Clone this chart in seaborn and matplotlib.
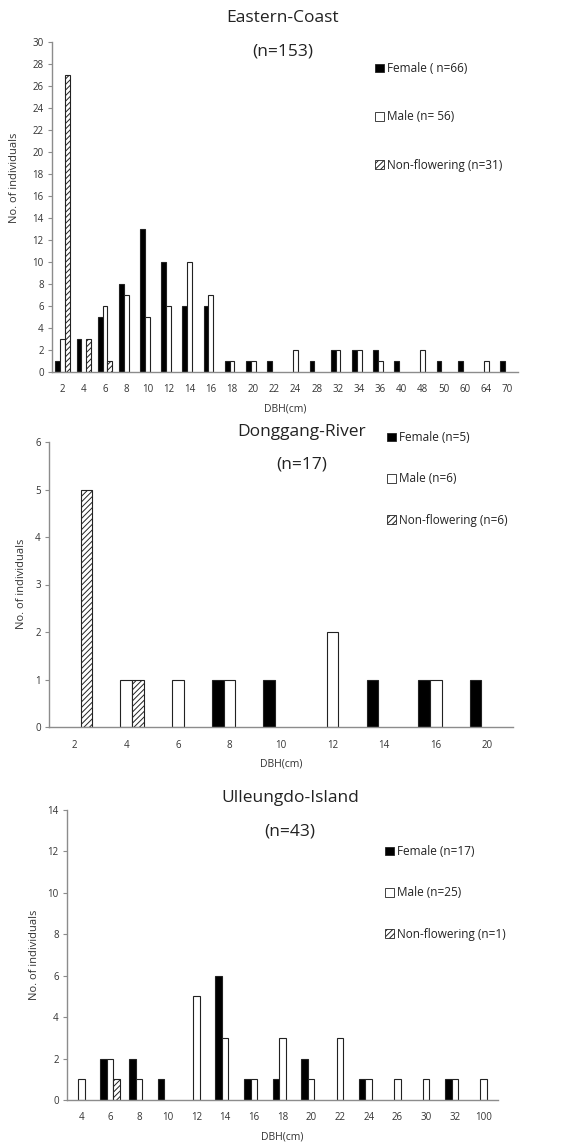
import pandas as pd
import matplotlib.pyplot as plt
import seaborn as sns
from matplotlib.patches import Patch
from matplotlib.ticker import FixedLocator

# Eastern-Coast
east_dbh = ['2', '4', '6', '8', '10', '12', '14', '16', '18', '20', '22',
            '24', '28', '32', '34', '36', '40', '48', '50', '60', '64', '70']
east_female = [1, 3, 5, 8, 13, 10, 6, 6, 1, 1, 1, 0, 1, 2, 2, 2, 1, 0, 1, 1, 0, 1]
east_male = [3, 0, 6, 7, 5, 6, 10, 7, 1, 1, 0, 2, 0, 2, 2, 1, 0, 2, 0, 0, 1, 0]
east_nonfl = [27, 3, 1, 0, 0, 0, 0, 0, 0, 0, 0, 0, 0, 0, 0, 0, 0, 0, 0, 0, 0, 0]

# Donggang-River
dong_dbh = ['2', '4', '6', '8', '10', '12', '14', '16', '20']
dong_female = [0, 0, 0, 1, 1, 0, 1, 1, 1]
dong_male = [0, 1, 1, 1, 0, 2, 0, 1, 0]
dong_nonfl = [5, 1, 0, 0, 0, 0, 0, 0, 0]

# Ulleungdo-Island
ull_dbh = ['4', '6', '8', '10', '12', '14', '16', '18', '20', '22', '24',
           '26', '30', '32', '100']
ull_female = [0, 2, 2, 1, 0, 6, 1, 1, 2, 0, 1, 0, 0, 1, 0]
ull_male = [1, 2, 1, 0, 5, 3, 1, 3, 1, 3, 1, 1, 1, 1, 1]
ull_nonfl = [0, 1, 0, 0, 0, 0, 0, 0, 0, 0, 0, 0, 0, 0, 0]

groups = ['Female', 'Male', 'Non-flowering']

sns.set_theme(style="white")
plt.rcParams['font.family'] = ['Open Sans', 'DejaVu Sans']
plt.rcParams['hatch.linewidth'] = 0.7

fig = plt.figure(figsize=(5.76, 11.43), dpi=100)
W, H = 576, 1143

edge = '#222222'
axis_col = '#8c8c8c'


def panel(rect, dbh, fem, mal, nf, title, n_txt, title_xy, legend_labels,
          legend_xy, legend_space, yticks, ylabel_x, ylabel_y):
    left, top, right, bottom = rect
    ax = fig.add_axes([left / W, 1 - bottom / H, (right - left) / W, (bottom - top) / H])
    df = pd.DataFrame({'dbh': dbh, 'Female': fem, 'Male': mal, 'Non-flowering': nf})
    long = df.melt(id_vars='dbh', var_name='group', value_name='count')
    sns.barplot(data=long, x='dbh', y='count', hue='group', order=dbh,
                hue_order=groups, palette=['black', 'white', 'white'],
                edgecolor=edge, linewidth=0.8, width=0.68, errorbar=None,
                legend=False, ax=ax)
    for bar in ax.containers[2]:
        bar.set_hatch('//////')
    for cont in ax.containers:
        for bar in cont:
            if bar.get_height() == 0:
                bar.set_visible(False)

    ax.set_xlim(-0.5, len(dbh) - 0.5)
    ax.set_ylim(0, yticks[-1])
    ax.set_yticks(yticks)
    ax.xaxis.set_minor_locator(FixedLocator([i - 0.5 for i in range(len(dbh) + 1)]))
    ax.tick_params(axis='x', which='major', length=0, labelsize=7, pad=9, colors='#333333')
    ax.tick_params(axis='x', which='minor', length=3, width=0.8, color=axis_col, direction='out')
    ax.tick_params(axis='y', which='major', length=3, width=0.8, color=axis_col,
                   labelsize=7, pad=3, labelcolor='#333333', left=True)
    for s in ['top', 'right']:
        ax.spines[s].set_visible(False)
    for s in ['left', 'bottom']:
        ax.spines[s].set_color(axis_col)
        ax.spines[s].set_linewidth(1.0)

    ax.set_xlabel('DBH(cm)', fontsize=7.5, color='#333333', labelpad=6)
    ax.set_ylabel('No. of individuals', fontsize=8, color='#333333')
    ax.yaxis.set_label_coords((ylabel_x - left) / (right - left),
                              (bottom - ylabel_y) / (bottom - top))

    fig.text(title_xy[0] / W, 1 - title_xy[1] / H, title, ha='center', va='center',
             fontsize=12.5, color='#222222')
    fig.text(title_xy[0] / W, 1 - title_xy[2] / H, n_txt, ha='center', va='center',
             fontsize=12.5, color='#222222')

    handles = [Patch(facecolor='black', edgecolor=edge, linewidth=0.6),
               Patch(facecolor='white', edgecolor=edge, linewidth=0.6),
               Patch(facecolor='white', edgecolor=edge, linewidth=0.6, hatch='//////')]
    leg = fig.legend(handles, legend_labels, loc='upper left',
                     bbox_to_anchor=(legend_xy[0] / W, 1 - legend_xy[1] / H),
                     frameon=False, fontsize=8.5, handlelength=0.75, handleheight=0.75,
                     handletextpad=0.25, labelspacing=legend_space, borderpad=0,
                     borderaxespad=0)
    for t in leg.get_texts():
        t.set_color('#222222')
    return ax


panel((52, 42, 518, 372), east_dbh, east_female, east_male, east_nonfl,
      'Eastern-Coast', '(n=153)', (283, 18, 52),
      ['Female ( n=66)', 'Male (n= 56)', 'Non-flowering (n=31)'],
      (375, 62), 3.0, list(range(0, 31, 2)), 20, 178)

panel((49, 442, 513, 727), dong_dbh, dong_female, dong_male, dong_nonfl,
      'Donggang-River', '(n=17)', (302, 432, 464),
      ['Female (n=5)', 'Male (n=6)', 'Non-flowering (n=6)'],
      (387, 431), 2.4, list(range(0, 7)), 27, 584)

panel((67, 810, 498, 1100), ull_dbh, ull_female, ull_male, ull_nonfl,
      'Ulleungdo-Island', '(n=43)', (290, 798, 831),
      ['Female (n=17)', 'Male (n=25)', 'Non-flowering (n=1)'],
      (385, 845), 2.4, list(range(0, 15, 2)), 40, 955)

plt.savefig('out.png', dpi=100)
